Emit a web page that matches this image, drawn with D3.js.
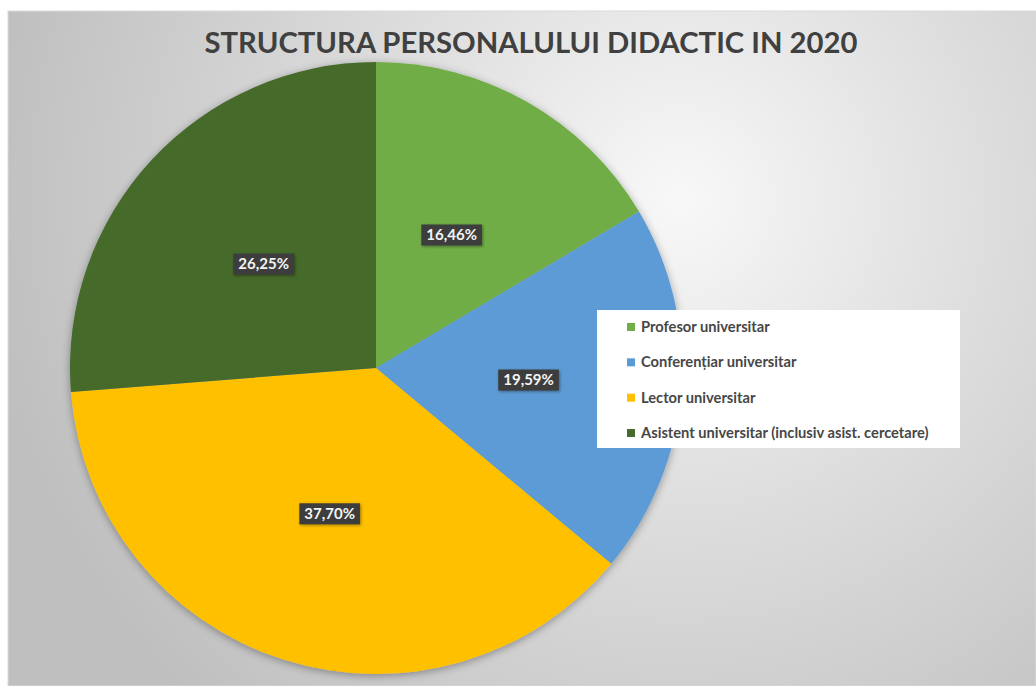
<!DOCTYPE html>
<html>
<head>
<meta charset="utf-8">
<script src="https://cdn.jsdelivr.net/npm/d3@7"></script>
<style>
  body { margin: 0; background: #fff; }
  svg { display: block; }
</style>
</head>
<body>
<div id="chart"></div>
<script>
// data
const categories = [
  'Profesor universitar',
  'Conferențiar universitar',
  'Lector universitar',
  'Asistent universitar (inclusiv asist. cercetare)'
];
const shares = [16.46, 19.59, 37.70, 26.25];
const chartTitle = 'STRUCTURA PERSONALULUI DIDACTIC IN 2020';

const palette = ['#70ad47', '#5b9bd5', '#ffc000', '#456b2c'];

const width = 1036;
const height = 686;
const cx = 376;
const cy = 368;
const radius = 306;

const roLocale = d3.formatLocale({ decimal: ',', thousands: '.', grouping: [3], currency: ['', ' lei'] });
const fmt = roLocale.format('.2f');

const data = categories.map((c, i) => ({ cat: c, value: shares[i] }));
const color = d3.scaleOrdinal(categories, palette);

const svg = d3.select('#chart').append('svg')
  .attr('width', width)
  .attr('height', height)
  .attr('viewBox', `0 0 ${width} ${height}`);

const defs = svg.append('defs');

const bg = defs.append('radialGradient')
  .attr('id', 'bg')
  .attr('gradientUnits', 'userSpaceOnUse')
  .attr('cx', 680).attr('cy', 200).attr('r', 700);
bg.append('stop').attr('offset', '0%').attr('stop-color', '#f8f8f8');
bg.append('stop').attr('offset', '40%').attr('stop-color', '#e0e0e0');
bg.append('stop').attr('offset', '100%').attr('stop-color', '#bfbfbf');

const shadow = defs.append('filter')
  .attr('id', 'pie-shadow')
  .attr('x', '-10%').attr('y', '-10%')
  .attr('width', '120%').attr('height', '120%');
shadow.append('feDropShadow')
  .attr('dx', 0).attr('dy', 2)
  .attr('stdDeviation', 4)
  .attr('flood-color', '#000')
  .attr('flood-opacity', 0.35);

const boxShadow = defs.append('filter')
  .attr('id', 'box-shadow')
  .attr('x', '-20%').attr('y', '-40%')
  .attr('width', '140%').attr('height', '180%');
boxShadow.append('feDropShadow')
  .attr('dx', 1).attr('dy', 1)
  .attr('stdDeviation', 1.5)
  .attr('flood-color', '#000')
  .attr('flood-opacity', 0.4);

// chart area
svg.append('rect')
  .attr('x', 8).attr('y', 11)
  .attr('width', width - 8).attr('height', height - 11)
  .attr('fill', 'url(#bg)')
  .attr('stroke', '#d9d9d9')
  .attr('stroke-width', 1);

// title
svg.append('text')
  .attr('x', 531)
  .attr('y', 53)
  .attr('text-anchor', 'middle')
  .attr('font-family', 'Lato, "Open Sans", sans-serif')
  .attr('font-weight', 700)
  .attr('font-size', 29)
  .attr('fill', '#404040')
  .attr('textLength', 653)
  .attr('lengthAdjust', 'spacingAndGlyphs')
  .text(chartTitle);

// pie
const pie = d3.pie().sort(null).value(d => d.value);
const arc = d3.arc().innerRadius(0).outerRadius(radius);
const arcs = pie(data);

const g = svg.append('g').attr('transform', `translate(${cx},${cy})`);

g.append('g')
  .attr('filter', 'url(#pie-shadow)')
  .selectAll('path')
  .data(arcs)
  .join('path')
  .attr('d', arc)
  .attr('fill', d => color(d.data.cat));

// data labels
const labels = g.append('g')
  .selectAll('g')
  .data(arcs)
  .join('g')
  .attr('transform', d => `translate(${arc.centroid(d)})`);

labels.each(function (d) {
  const lg = d3.select(this);
  const rect = lg.append('rect').attr('fill', '#3c3c3c').attr('filter', 'url(#box-shadow)');
  const t = lg.append('text')
    .attr('text-anchor', 'middle')
    .attr('dy', '0.35em')
    .attr('font-family', 'Lato, "Open Sans", sans-serif')
    .attr('font-weight', 700)
    .attr('font-size', 15)
    .attr('fill', '#f4f4f4')
    .text(fmt(d.data.value) + '%');
  const w = t.node().getComputedTextLength() + 10;
  rect.attr('x', -w / 2).attr('y', -10.5).attr('width', w).attr('height', 21);
});

// legend
const legend = svg.append('g');
legend.append('rect')
  .attr('x', 597).attr('y', 310)
  .attr('width', 363).attr('height', 138)
  .attr('fill', '#ffffff');

const rowY = d3.scalePoint().domain(categories).range([327, 433]);

const items = legend.selectAll('g.item')
  .data(categories)
  .join('g')
  .attr('class', 'item')
  .attr('transform', d => `translate(0,${rowY(d)})`);

items.append('rect')
  .attr('x', 627).attr('y', -4)
  .attr('width', 8).attr('height', 8)
  .attr('fill', d => color(d));

const legendText = items.append('text')
  .attr('x', 641)
  .attr('dy', '0.35em')
  .attr('font-family', 'Lato, "Open Sans", sans-serif')
  .attr('font-weight', 700)
  .attr('font-size', 13)
  .attr('fill', '#474747')
  .text(d => d);

// fit legend font so the longest line spans like in the picture
const longest = d3.max(legendText.nodes(), n => n.getComputedTextLength());
legendText.attr('font-size', 13 * 288 / longest);
</script>
</body>
</html>
